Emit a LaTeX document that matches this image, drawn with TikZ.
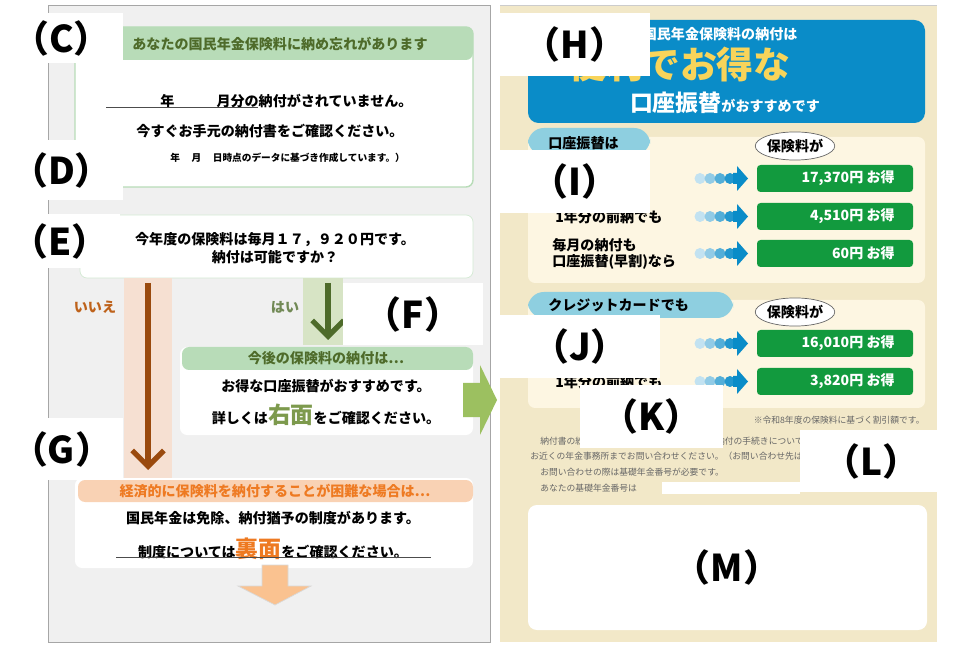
\documentclass[tikz,border=0pt]{standalone}
\usepackage{fontspec}
\setmainfont{Noto Sans CJK JP}
\usetikzlibrary{arrows.meta,shapes.geometric,calc}
\definecolor{panelgray}{HTML}{F0F0F0}
\definecolor{beige}{HTML}{F2E8C8}
\definecolor{cream}{HTML}{FDF6E2}
\definecolor{mint}{HTML}{B8DCB8}
\definecolor{leaf}{HTML}{4E6B2A}
\definecolor{leafband}{HTML}{D7E4C5}
\definecolor{rust}{HTML}{9A4A0E}
\definecolor{peach}{HTML}{F6E0D2}
\definecolor{peachhead}{HTML}{F9D2B4}
\definecolor{tangerine}{HTML}{EE7A22}
\definecolor{okra}{HTML}{9CC060}
\definecolor{sky}{HTML}{0A8CC8}
\definecolor{pill}{HTML}{8ECFE0}
\definecolor{sun}{HTML}{F8D45A}
\definecolor{money}{HTML}{129A3E}
\definecolor{notegray}{HTML}{666666}

\begin{document}
\begin{tikzpicture}[x=0.02cm,y=-0.02cm,
    txt/.style={font=\fontsize{8}{9}\selectfont\bfseries, inner sep=0pt},
    small/.style={font=\fontsize{5}{6}\selectfont, text=notegray, inner sep=0pt},
    tag/.style={fill=white, inner sep=0pt, font=\fontsize{21}{22}\selectfont\bfseries},
    card/.style={fill=white, rounded corners=4pt},
    save/.style={fill=money, rounded corners=2pt},
    savetxt/.style={txt, text=white, anchor=east},
    bubble/.style={ellipse, draw=black!60, fill=white, minimum width=44pt, minimum height=16pt, inner sep=0pt, font=\fontsize{8}{9}\selectfont\bfseries}]
    \useasboundingbox (0,0) rectangle (960,648);
    % panels
    \draw[black!35, fill=panelgray] (48,5) rectangle (490,642);
    \fill[beige] (500,5) rectangle (937,642);
    \draw[black!20] (500,5) -- (937,5);

    % box C
    \draw[mint, thick, fill=white, rounded corners=4pt] (75,27) rectangle (473,187);
    \fill[mint, rounded corners=4pt] (75,27) rectangle (473,60);
    \node[txt, text=leaf] (head-c) at (280,44) {あなたの国民年金保険料に納め忘れがあります};
    \node[txt, anchor=west] (missed) at (160,101) {年\hspace{3em}月分の納付がされていません。};
    \coordinate (ul-a) at (106,107);
    \coordinate (ul-b) at (258,107);
    \draw[black!70] (ul-a) -- (ul-b);
    \node[txt] (check-c) at (270,131) {今すぐお手元の納付書をご確認ください。};
    \node[txt, font=\fontsize{5.5}{6}\selectfont\bfseries, anchor=west] (asof) at (170,158) {年\hspace{1.2em}月\hspace{1.2em}日時点のデータに基づき作成しています。）};

    % box E
    \draw[mint!60, card] (80,215) rectangle (473,278);
    \node[txt] (fee) at (275,240) {今年度の保険料は毎月１７，９２０円です。};
    \node[txt] (can) at (275,257) {納付は可能ですか？};

    % no / yes bands
    \fill[peach] (124,278) rectangle (172,478);
    \coordinate (no-top) at (148,283);
    \coordinate (no-end) at (148,470);
    \draw[rust, line width=3.2pt, -{Straight Barb[length=9pt,width=18pt,line width=3pt]}] (no-top) -- (no-end);
    \node[txt, text=tangerine!80!black] (no) at (95,307) {いいえ};
    \fill[leafband] (303,278) rectangle (343,345);
    \coordinate (yes-top) at (328,283);
    \coordinate (yes-end) at (328,340);
    \draw[leaf, line width=3.2pt, -{Straight Barb[length=9pt,width=18pt,line width=3pt]}] (yes-top) -- (yes-end);
    \node[txt, text=leaf!80] (yes) at (285,307) {はい};

    % box F
    \fill[white, rounded corners=4pt] (180,347) rectangle (473,435);
    \fill[mint, rounded corners=4pt] (182,347) rectangle (473,370);
    \node[txt, text=leaf] (head-f) at (326,358) {今後の保険料の納付は…};
    \node[txt] (recommend) at (326,386) {お得な口座振替がおすすめです。};
    \node[txt] (right-side) at (326,415) {詳しくは{\fontsize{13}{13}\selectfont\color{okra!80!black}右面}をご確認ください。};
    \fill[okra] (463,383) -- (480,383) -- (480,365) -- (497,400) -- (480,435) -- (480,417) -- (463,417) -- cycle;

    % box G
    \fill[white, rounded corners=4pt] (75,478) rectangle (473,568);
    \fill[peachhead, rounded corners=4pt] (78,480) rectangle (473,502);
    \node[txt, text=tangerine] (head-g) at (275,491) {経済的に保険料を納付することが困難な場合は…};
    \node[txt] (exempt) at (273,518) {国民年金は免除、納付猶予の制度があります。};
    \node[txt] (back-side) at (273,549) {制度については{\fontsize{13}{13}\selectfont\color{tangerine}裏面}をご確認ください。};
    \coordinate (ul-c) at (116,557);
    \coordinate (ul-d) at (431,557);
    \draw[black!70] (ul-c) -- (ul-d);
    \fill[peachhead!80!orange, draw=black!15] (262,565) -- (288,565) -- (288,586) -- (311,586) -- (275,605) -- (238,586) -- (262,586) -- cycle;

    % right: header
    \fill[sky, rounded corners=6pt] (528,20) rectangle (925,123);
    \node[txt, text=white] (head-h) at (685,34) {これからの国民年金保険料の納付は};
    \node[inner sep=0pt, text=sun, font=\fontsize{21}{22}\selectfont\bfseries] (benri) at (680,65) {便利でお得な};
    \node[inner sep=0pt, text=white] (koza) at (725,103) {{\fontsize{13}{13}\selectfont\bfseries 口座振替}{\fontsize{8}{9}\selectfont\bfseries がおすすめです}};

    % account transfer panel
    \fill[cream, rounded corners=4pt] (528,137) rectangle (925,283);
    \fill[pill, rounded corners=9pt] (528,128) rectangle (650,155);
    \node[txt, anchor=west] (pill-1) at (548,143) {口座振替は};
    \node[txt, anchor=west] (row-1) at (555,178) {2年分の前納で};
    \node[txt, anchor=west] (row-2) at (555,217) {1年分の前納でも};
    \node[txt, anchor=west, align=left] (row-3) at (552,254) {毎月の納付も\\口座振替(早割)なら};
    \foreach \y/\v [count=\i] in {165/17{,}370, 203/4{,}510, 240/60} {
        \fill[save] (757,\y) rectangle (913,\y+27);
        \node[savetxt] (save-\i) at (895,\y+13.5) {\v 円\ お得};
        \foreach \k/\c in {0/25,1/45,2/70,3/90}
            \fill[sky!\c] (700+\k*10,\y+13.5) circle (5.5);
        \fill[sky] (733,\y+8) -- (737,\y+8) -- (737,\y+1) -- (748,\y+13.5) -- (737,\y+26) -- (737,\y+19) -- (733,\y+19) -- cycle;
    }
    \node[bubble] (bubble-1) at (795,146) {保険料が};

    % credit card panel
    \fill[cream, rounded corners=4pt] (528,300) rectangle (925,408);
    \fill[pill, rounded corners=9pt] (528,292) rectangle (733,318);
    \node[txt, anchor=west] (pill-2) at (548,305) {クレジットカードでも};
    \node[txt, anchor=west] (row-4) at (555,343) {2年分の前納で};
    \node[txt, anchor=west] (row-5) at (555,382) {1年分の前納でも};
    \foreach \y/\v [count=\i from 4] in {330/16{,}010, 368/3{,}820} {
        \fill[save] (757,\y) rectangle (913,\y+27);
        \node[savetxt] (save-\i) at (895,\y+13.5) {\v 円\ お得};
        \foreach \k/\c in {0/25,1/45,2/70,3/90}
            \fill[sky!\c] (700+\k*10,\y+13.5) circle (5.5);
        \fill[sky] (733,\y+8) -- (737,\y+8) -- (737,\y+1) -- (748,\y+13.5) -- (737,\y+26) -- (737,\y+19) -- (733,\y+19) -- cycle;
    }
    \node[bubble] (bubble-2) at (795,312) {保険料が};

    % notes
    \node[small, anchor=east] (note) at (925,420) {※令和8年度の保険料に基づく割引額です。};
    \node[small, anchor=west] (para-1) at (540,441) {納付書の紛失、口座振替やクレジットカード納付の手続きについては、};
    \node[small, anchor=west] (para-2) at (530,456) {お近くの年金事務所までお問い合わせください。（お問い合わせ先は裏面）};
    \node[small, anchor=west] (para-3) at (540,472) {お問い合わせの際は基礎年金番号が必要です。};
    \node[small, anchor=west] (para-4) at (540,488) {あなたの基礎年金番号は};
    \fill[white] (662,482) rectangle (800,494);

    % box M
    \fill[white, rounded corners=5pt] (528,505) rectangle (927,630);

    % labels
    \foreach \n/\xa/\ya/\xb/\yb in {C/0/13/123/63, D/0/140/123/200, E/0/214/120/268, F/343/283/483/345,
        G/0/418/123/480, H/500/13/650/76, I/500/150/650/213, J/500/315/660/378, K/580/385/723/448, L/800/430/943/492} {
        \fill[white] (\xa,\ya) rectangle (\xb,\yb);
        \node[tag] (tag-\n) at ({(\xa+\xb)/2},{(\ya+\yb)/2}) {（\n）};
    }
    \node[tag, fill=none] (tag-M) at (727,567) {（M）};
\end{tikzpicture}
\end{document}
